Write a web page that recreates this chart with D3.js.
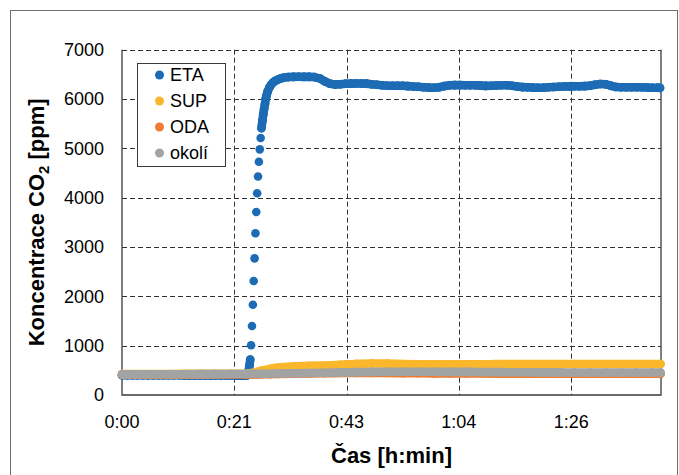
<!DOCTYPE html>
<html>
<head>
<meta charset="utf-8">
<script src="https://cdn.jsdelivr.net/npm/d3@7"></script>
<style>
  body { margin: 0; background: #fff; }
  svg text { font-family: "Liberation Sans", Arial, sans-serif; fill: #000; }
</style>
</head>
<body>
<div id="chart"></div>
<script>
// time in minutes
const etaTime = [
  0, 1, 2, 3, 4, 5, 6, 7, 8, 9, 10, 11, 12, 13, 14, 15, 16, 17, 18, 19, 20, 21, 22, 23, 24,
  24.17, 24.33, 24.5, 24.67, 24.83, 25, 25.17, 25.33, 25.5, 25.67,
  25.83, 26, 26.17, 26.33, 26.5, 26.67, 26.83, 27, 27.17, 27.33,
  27.5, 27.67, 27.83, 28, 28.33, 28.67, 29, 29.5, 30, 30.5,
  31, 32, 33, 34, 35, 36, 37, 38, 39, 40,
  41, 42, 43, 44, 45, 46, 47, 48, 49, 50,
  51, 52, 53, 54, 55, 56, 57, 58, 59, 60,
  61, 62, 63, 64, 65, 66, 67, 68, 69, 70,
  71, 72, 73, 74, 75, 76, 77, 78, 79, 80,
  81, 82, 83, 84, 85, 86, 87, 88, 89, 90,
  91, 92, 93, 94, 95, 96, 97, 98, 99, 100,
  101, 102, 103, 103.5
];
const etaValues = [
  400, 401, 401, 400, 400, 401, 400, 399, 399, 400, 400, 399, 398, 398, 398, 397, 397, 396, 396, 395, 394, 394, 393, 393, 395,
  430, 480, 590, 720, 1010, 1400, 1830, 2310, 2770, 3280,
  3710, 4090, 4430, 4730, 4980, 5210, 5410, 5560, 5690, 5800,
  5900, 6010, 6080, 6150, 6230, 6290, 6330, 6370, 6395, 6415,
  6430, 6445, 6450, 6452, 6450, 6450, 6445, 6420, 6360, 6310,
  6293, 6300, 6310, 6312, 6315, 6315, 6312, 6300, 6290, 6280,
  6270, 6268, 6270, 6268, 6262, 6255, 6248, 6240, 6232, 6228,
  6240, 6262, 6278, 6282, 6282, 6280, 6280, 6278, 6272, 6267,
  6270, 6275, 6280, 6280, 6270, 6255, 6242, 6238, 6232, 6228,
  6230, 6238, 6245, 6250, 6254, 6256, 6258, 6260, 6262, 6270,
  6290, 6306, 6300, 6270, 6245, 6238, 6238, 6240, 6240, 6238,
  6235, 6230, 6228, 6226
];

const refTime = [
  0, 3, 6, 9, 12, 15, 18, 21, 24, 25,
  26, 27, 28.5, 30, 33, 36, 39, 42, 45, 48,
  51, 54, 57, 60, 63, 66, 69, 72, 75, 78,
  81, 84, 87, 90, 93, 96, 99, 102, 103.6
];
const supValues = [
  425, 425, 426, 427, 428, 428, 429, 430, 432, 445,
  470, 500, 530, 555, 580, 592, 598, 612, 630, 640,
  636, 628, 622, 620, 620, 622, 624, 625, 626, 626,
  627, 627, 628, 628, 628, 628, 629, 629, 629
];
const odaValues = [
  412, 412, 413, 413, 414, 414, 415, 415, 416, 417,
  418, 420, 422, 425, 430, 435, 440, 445, 448, 447,
  445, 442, 440, 438, 437, 436, 435, 434, 433, 432,
  432, 431, 431, 430, 430, 430, 430, 430, 430
];
const okoliValues = [
  418, 419, 420, 421, 422, 423, 424, 425, 427, 428,
  429, 430, 432, 435, 440, 446, 452, 458, 464, 468,
  471, 472, 471, 470, 469, 468, 466, 464, 462, 460,
  459, 458, 457, 457, 456, 456, 456, 456, 456
];

const seriesNames = ['ETA', 'SUP', 'ODA', 'okolí'];
const seriesColors = ['#1c6bb4', '#fbb72b', '#ee7d33', '#a2a4a4'];

const xTickValues = [0, 21.6, 43.2, 64.8, 86.4];
const xTickLabels = ['0:00', '0:21', '0:43', '1:04', '1:26'];
const yTickValues = [0, 1000, 2000, 3000, 4000, 5000, 6000, 7000];

const W = 679, H = 475;
const plot = { left: 122, right: 661, top: 49.7, bottom: 395 };
const R = 4.3;

const svg = d3.select('#chart').append('svg')
  .attr('width', W).attr('height', H);

// outer frame
svg.append('rect')
  .attr('x', 10.5).attr('y', 10.5)
  .attr('width', 667).attr('height', 470)
  .attr('fill', 'none').attr('stroke', '#6e6e6e').attr('stroke-width', 1);

const x = d3.scaleLinear().domain([0, 103.68]).range([plot.left, plot.right]);
const y = d3.scaleLinear().domain([0, 7000]).range([plot.bottom, plot.top]);

// grid
const grid = svg.append('g')
  .attr('stroke', '#333').attr('stroke-width', 1).attr('stroke-dasharray', '5,3');
grid.selectAll('line.h')
  .data(yTickValues.filter(v => v > 0))
  .join('line')
  .attr('x1', plot.left).attr('x2', plot.right)
  .attr('y1', d => Math.round(y(d)) + 0.5).attr('y2', d => Math.round(y(d)) + 0.5);
grid.selectAll('line.v')
  .data(xTickValues.filter(v => v > 0))
  .join('line')
  .attr('x1', d => Math.round(x(d)) + 0.5).attr('x2', d => Math.round(x(d)) + 0.5)
  .attr('y1', plot.top).attr('y2', plot.bottom);

// axes frame (left, bottom, right solid)
const frame = svg.append('g').attr('stroke', '#3a3a3a').attr('stroke-width', 1.3).attr('fill', 'none');
frame.append('path')
  .attr('d', `M${plot.left},${plot.top}V${plot.bottom}H${plot.right}V${plot.top}`);

// tick labels
svg.append('g').selectAll('text')
  .data(yTickValues)
  .join('text')
  .attr('x', plot.left - 18)
  .attr('y', d => y(d))
  .attr('dy', '0.35em')
  .attr('text-anchor', 'end')
  .attr('font-size', '18px')
  .text(d => d);

svg.append('g').selectAll('text')
  .data(xTickValues)
  .join('text')
  .attr('x', d => x(d))
  .attr('y', plot.bottom + 27)
  .attr('dy', '0.35em')
  .attr('text-anchor', 'middle')
  .attr('font-size', '18px')
  .text((d, i) => xTickLabels[i]);

// axis titles
svg.append('text')
  .attr('x', (plot.left + plot.right) / 2)
  .attr('y', 463)
  .attr('text-anchor', 'middle')
  .attr('font-size', '22px')
  .attr('font-weight', 'bold')
  .text('Čas [h:min]');

const yTitle = svg.append('text')
  .attr('transform', `translate(44,${(plot.top + plot.bottom) / 2}) rotate(-90)`)
  .attr('text-anchor', 'middle')
  .attr('font-size', '22px')
  .attr('font-weight', 'bold');
yTitle.append('tspan').text('Koncentrace CO');
yTitle.append('tspan').attr('font-size', '15px').attr('dy', 5).text('2');
yTitle.append('tspan').attr('dy', -5).text(' [ppm]');

// data
const eta = etaTime.map((t, i) => ({ t, v: etaValues[i] }));
const refSeries = [supValues, odaValues, okoliValues].map(vals =>
  refTime.map((t, i) => ({ t, v: vals[i] })));

const dataLayer = svg.append('g');

// ETA: markers, joined where they overlap
const etaSegs = [];
for (let i = 1; i < eta.length; i++) {
  const a = eta[i - 1], b = eta[i];
  const dist = Math.hypot(x(b.t) - x(a.t), y(b.v) - y(a.v));
  if (dist < 2 * R) etaSegs.push([a, b]);
}
dataLayer.append('g')
  .selectAll('line')
  .data(etaSegs)
  .join('line')
  .attr('x1', d => x(d[0].t)).attr('y1', d => y(d[0].v))
  .attr('x2', d => x(d[1].t)).attr('y2', d => y(d[1].v))
  .attr('stroke', seriesColors[0])
  .attr('stroke-width', 2 * R)
  .attr('stroke-linecap', 'round');
dataLayer.append('g')
  .selectAll('circle')
  .data(eta)
  .join('circle')
  .attr('cx', d => x(d.t)).attr('cy', d => y(d.v))
  .attr('r', R)
  .attr('fill', seriesColors[0]);

// SUP, ODA, okolí: dense markers -> thick band
const line = d3.line().x(d => x(d.t)).y(d => y(d.v)).curve(d3.curveMonotoneX);
refSeries.forEach((s, k) => {
  const g = dataLayer.append('g');
  g.append('path')
    .attr('d', line(s))
    .attr('fill', 'none')
    .attr('stroke', seriesColors[k + 1])
    .attr('stroke-width', 2 * R)
    .attr('stroke-linecap', 'round')
    .attr('stroke-linejoin', 'round');
  g.selectAll('circle')
    .data(s)
    .join('circle')
    .attr('cx', d => x(d.t)).attr('cy', d => y(d.v))
    .attr('r', R)
    .attr('fill', seriesColors[k + 1]);
});

// legend
const legend = svg.append('g').attr('transform', 'translate(137,63)');
legend.append('rect')
  .attr('x', 0.5).attr('y', 0.5)
  .attr('width', 88).attr('height', 103)
  .attr('fill', '#fff').attr('stroke', '#3a3a3a').attr('stroke-width', 1);
const items = legend.selectAll('g.item')
  .data(seriesNames)
  .join('g')
  .attr('transform', (d, i) => `translate(0,${12 + i * 26})`);
items.append('circle')
  .attr('cx', 22.5).attr('cy', 0)
  .attr('r', 4.5)
  .attr('fill', (d, i) => seriesColors[i]);
items.append('text')
  .attr('x', 33).attr('y', 0)
  .attr('dy', '0.35em')
  .attr('font-size', '18px')
  .text(d => d);
</script>
</body>
</html>
